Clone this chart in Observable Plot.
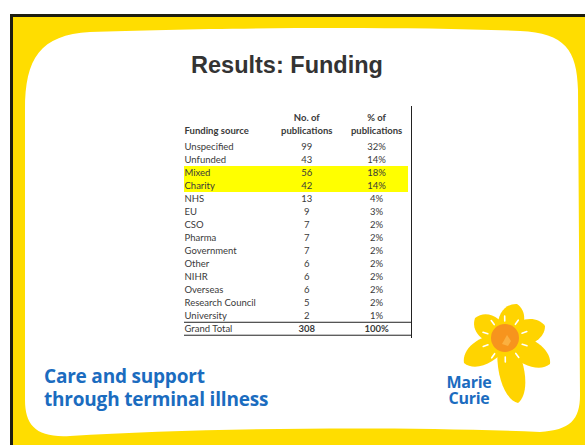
<!DOCTYPE html>
<html>
<head>
<meta charset="utf-8">
<script src="https://cdn.jsdelivr.net/npm/d3@7"></script>
<script src="https://cdn.jsdelivr.net/npm/@observablehq/plot@0.6"></script>
<style>
  html, body { margin: 0; padding: 0; background: #fff; width: 585px; height: 445px; overflow: hidden; }
  #stage { position: relative; width: 585px; height: 445px; }
  #bg { position: absolute; left: 0; top: 0; }
  #title { position: absolute; left: 0; width: 574px; top: 52px; text-align: center;
    font-family: "Liberation Sans", Arial, sans-serif; font-weight: bold; font-size: 23.5px; color: #333; }
  .tag { position: absolute; left: 44px; font-family: "Open Sans", sans-serif; font-weight: bold;
    font-size: 19px; line-height: 20px; color: #1b6cbf; letter-spacing: -0.2px; white-space: nowrap; }
  .brand { position: absolute; left: 444px; width: 50px; font-family: "Open Sans", sans-serif; font-weight: bold;
    font-size: 16px; line-height: 14px; color: #1b6cbf; text-align: center; letter-spacing: -0.3px; }
  #table { position: absolute; left: 176px; top: 100px; width: 240px; height: 242px; }
  #table svg { max-width: none; }
</style>
</head>
<body>
<div id="stage">
  <svg id="bg" width="585" height="445"></svg>
  <div id="title">Results: Funding</div>
  <div id="table"></div>
  <div class="tag" style="top:366px">Care and support</div>
  <div class="tag" style="top:389px">through terminal illness</div>
  <div class="brand" style="top:375px">Marie</div>
  <div class="brand" style="top:391px">Curie</div>
</div>
<script>
// ---- data ----
const sources = ["Unspecified","Unfunded","Mixed","Charity","NHS","EU","CSO","Pharma","Government","Other","NIHR","Overseas","Research Council","University"];
const counts = [99,43,56,42,13,9,7,7,7,6,6,6,5,2];
const percents = [32,14,18,14,4,3,2,2,2,2,2,2,2,1];
const totalLabel = "Grand Total";
const totalCount = 308;
const totalPercent = 100;
const highlighted = ["Mixed","Charity"];
const columnHeaders = ["Funding source","No. of\npublications","% of\npublications"];

// column layout (grid slots along x), not data
const slot = {source: 0, count: 7, pct: 11, edge: 13};

// ---- decorative slide background ----
const ns = "http://www.w3.org/2000/svg";
const bg = document.getElementById("bg");
function el(tag, attrs) { const e = document.createElementNS(ns, tag); for (const k in attrs) e.setAttribute(k, attrs[k]); bg.appendChild(e); return e; }
el("rect", {x: 12, y: 16, width: 573, height: 429, fill: "#FFDD00"});
el("rect", {x: 10, y: 14, width: 575, height: 3, fill: "#1e1e10"});
el("rect", {x: 10, y: 14, width: 3, height: 431, fill: "#1e1e10"});
el("path", {fill: "#fff", d: "M25,110 C25,58 40,35 90,32 C200,28 400,26 520,31 C565,33 577,50 578,90 L580,395 C580,420 570,430 540,432 C400,426 200,428 70,436 C36,438 25,425 25,400 Z"});
// daffodil
const cx = 505, cy = 339;
const tips = [[517,304],[475,318],[545,326],[550,364],[518,403],[464,363]];
for (const [tx, ty] of tips) {
  const L = Math.hypot(tx - cx, ty - cy);
  const a = Math.atan2(ty - cy, tx - cx) * 180 / Math.PI;
  el("path", {fill: "#FFD400", transform: `translate(${cx} ${cy}) rotate(${a})`,
    d: `M0,-7 C${L*0.45},-17 ${L*0.9},-13 ${L},0 C${L*0.9},13 ${L*0.45},17 0,7 Z`});
}
el("circle", {cx, cy, r: 17, fill: "#FFD400"});
el("circle", {cx, cy: cy - 1, r: 14, fill: "#F7941D"});
el("path", {d: `M${cx+2},${cy-4} l4,6 l-3,5 l-6,-2 z`, fill: "#FBB040"});
for (let k = 0; k < 10; k++) {
  const ang = (k / 10) * 2 * Math.PI + 0.3;
  const r1 = 18, r2 = 23;
  el("line", {x1: cx + r1*Math.cos(ang), y1: cy + r1*Math.sin(ang), x2: cx + r2*Math.cos(ang), y2: cy + r2*Math.sin(ang), stroke: "#fff", "stroke-width": 1.6, "stroke-linecap": "round"});
}

// ---- table drawn with Plot ----
const rows = sources.map((s, i) => ({source: s, count: counts[i], pct: percents[i]}));
const total = {source: totalLabel, count: totalCount, pct: totalPercent};
const rowDomain = [...sources, totalLabel];
const height = 242, marginTop = 36, marginBottom = 4;
const bw = (height - marginTop - marginBottom) / rowDomain.length;
const ink = "#3a3a3a";

const chart = Plot.plot({
  width: 240, height, marginTop, marginBottom, marginLeft: 8, marginRight: 5,
  x: {type: "linear", domain: [slot.source, slot.edge], axis: null},
  y: {type: "band", domain: rowDomain, padding: 0, axis: null},
  style: {background: "transparent", fontFamily: "Lato, sans-serif", fontSize: "9.5px", color: ink},
  marks: [
    Plot.barX(highlighted, {y: d => d, x1: () => slot.source, x2: () => slot.edge, insetRight: 3, fill: "#ffff00"}),
    Plot.text([columnHeaders[0]], {x: () => slot.source, text: d => d, frameAnchor: "top", lineAnchor: "bottom", dy: -3, textAnchor: "start", fontWeight: "bold", fill: ink}),
    Plot.text(columnHeaders.slice(1), {x: (d, i) => [slot.count, slot.pct][i], text: d => d, frameAnchor: "top", lineAnchor: "bottom", dy: -3, lineHeight: 1.35, fontWeight: "bold", fill: ink}),
    Plot.text(rows, {x: () => slot.source, y: "source", text: "source", textAnchor: "start", fill: ink}),
    Plot.text(rows, {x: () => slot.count, y: "source", text: d => String(d.count), fill: ink}),
    Plot.text(rows, {x: () => slot.pct, y: "source", text: d => d.pct + "%", fill: ink}),
    Plot.text([total], {x: () => slot.source, y: "source", text: "source", textAnchor: "start", fill: ink}),
    Plot.text([total], {x: () => slot.count, y: "source", text: d => String(d.count), fontWeight: "bold", fill: ink}),
    Plot.text([total], {x: () => slot.pct, y: "source", text: d => d.pct + "%", fontWeight: "bold", fill: ink}),
    Plot.ruleY([totalLabel], {y: d => d, x1: () => slot.source, x2: () => slot.edge, dy: -bw / 2, stroke: "#222", strokeWidth: 1}),
    Plot.ruleY([totalLabel], {y: d => d, x1: () => slot.source, x2: () => slot.edge, dy: bw / 2 - 0.5, stroke: "#222", strokeWidth: 1}),
    Plot.ruleX([slot.edge], {x: d => d, insetTop: -30, stroke: "#222", strokeWidth: 1})
  ]
});
document.getElementById("table").appendChild(chart);
</script>
</body>
</html>
